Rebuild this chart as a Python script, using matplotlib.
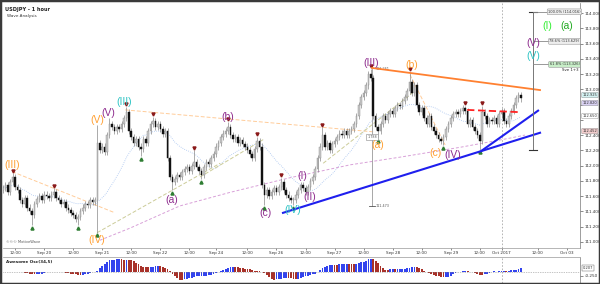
import matplotlib
matplotlib.use("Agg")
import matplotlib.pyplot as plt
import numpy as np
import pandas as pd
from matplotlib.patches import Rectangle

# USDJPY 1 hour closes, bar index 7..221, 12 bars per row
first_bar = 7
first_open = 111.68
closes = [
    111.70, 111.75, 111.65, 111.78, 111.85, 111.72, 111.68, 111.55, 111.50, 111.58, 111.45, 111.40,
    111.35, 111.50, 111.56, 111.60, 111.55, 111.62, 111.60, 111.58, 111.62, 111.65, 111.58, 111.55,
    111.50, 111.52, 111.45, 111.42, 111.38, 111.35, 111.30, 111.32, 111.40, 111.45, 111.50, 111.48,
    111.55, 111.52, 111.55, 112.30, 112.20, 112.25, 112.18, 112.40, 112.55, 112.50, 112.45, 112.50,
    112.48, 112.55, 112.62, 112.70, 112.45, 112.38, 112.30, 112.35, 112.25, 112.22, 112.35, 112.30,
    112.45, 112.55, 112.58, 112.50, 112.55, 112.48, 112.42, 112.45, 112.10, 111.85, 111.78, 111.82,
    111.88, 111.85, 111.92, 111.95, 111.98, 111.93, 112.00, 112.05, 111.98, 111.93, 111.88, 111.98,
    112.05, 112.02, 112.10, 112.15, 112.25, 112.30, 112.38, 112.42, 112.45, 112.50, 112.40, 112.35,
    112.38, 112.30, 112.33, 112.28, 112.25, 112.20, 112.15, 112.10, 112.22, 112.32, 112.25, 111.75,
    111.62, 111.68, 111.60, 111.65, 111.70, 111.65, 111.72, 111.78, 111.68, 111.62, 111.58, 111.55,
    111.55, 111.62, 111.68, 111.75, 111.70, 111.65, 111.72, 111.80, 111.85, 111.95, 112.10, 112.25,
    112.40, 112.25, 112.30, 112.20, 112.28, 112.32, 112.38, 112.42, 112.40, 112.45, 112.40, 112.45,
    112.48, 112.55, 112.65, 112.80, 112.90, 112.95, 113.05, 113.20, 113.15, 112.65, 112.50, 112.45,
    112.55, 112.65, 112.60, 112.68, 112.72, 112.68, 112.75, 112.80, 112.78, 112.85, 112.90, 112.98,
    113.10, 112.95, 113.05, 112.80, 112.70, 112.75, 112.62, 112.55, 112.65, 112.50, 112.45, 112.40,
    112.35, 112.32, 112.38, 112.48, 112.55, 112.62, 112.68, 112.70, 112.68, 112.72, 112.75, 112.72,
    112.55, 112.60, 112.50, 112.45, 112.40, 112.32, 112.70, 112.65, 112.55, 112.60, 112.58, 112.62,
    112.55, 112.68, 112.72, 112.58, 112.55, 112.65, 112.72, 112.80, 112.88, 112.92, 112.88,
]

# swing highs / lows (bar index: price)
pivot_highs = {11: 111.90, 28: 111.70, 46: 112.53, 51: 112.62, 58: 112.77, 69: 112.64,
               86: 112.20, 100: 112.57, 112: 112.38, 122: 111.84, 130: 111.78, 139: 112.50,
               159: 113.27, 175: 113.23, 198: 112.78, 205: 112.78, 220: 112.97}
pivot_lows = {19: 111.22, 38: 111.22, 46: 111.12, 64: 112.12, 77: 111.68, 89: 111.82,
              115: 111.48, 127: 111.48, 132: 111.62, 162: 112.36, 189: 112.27, 204: 112.21}
top_marks = [11, 28, 58, 69, 86, 100, 112, 122, 139, 159, 175, 198, 205]
bottom_marks = [19, 38, 46, 64, 77, 89, 115, 127, 162, 189, 204]

tick_bars = [12, 24, 36, 48, 60, 72, 84, 95, 108, 120, 132, 144, 156, 168, 180, 192, 204, 213, 228, 240]
tick_labels = ["12:00", "Sep 20", "12:00", "Sep 21", "12:00", "Sep 22", "12:00", "Sep 24",
               "12:00", "Sep 26", "12:00", "Sep 27", "12:00", "Sep 28", "12:00", "Sep 29",
               "12:00", "Oct 2017", "12:00", "Oct 03"]

# wave labels: text, bar, price, colour
ORANGE, PURPLE, CYAN = "#ffa033", "#8e2c8e", "#2ec4c4"
wave_labels = [
    ("(III)", 10.8, 112.01, ORANGE), ("(V)", 45.9, 112.60, ORANGE), ("(V)", 50.4, 112.69, PURPLE),
    ("(III)", 57.0, 112.83, CYAN), ("(IV)", 45.9, 111.02, ORANGE), ("(a)", 76.9, 111.55, PURPLE),
    ("(b)", 100.0, 112.64, PURPLE), ("(c)", 115.3, 111.38, PURPLE), ("(IV)", 126.9, 111.42, CYAN),
    ("(I)", 130.6, 111.86, PURPLE), ("(II)", 133.9, 111.59, PURPLE), ("(III)", 159.1, 113.34, PURPLE),
    ("(a)", 162.0, 112.27, ORANGE), ("(b)", 176.0, 113.32, ORANGE), ("(c)", 185.6, 112.17, ORANGE),
    ("(IV)", 193.0, 112.14, PURPLE), ("(V)", 226.0, 113.61, PURPLE), ("(V)", 226.0, 113.44, CYAN),
    ("(I)", 231.8, 113.83, "#33ee33"), ("(a)", 240.1, 113.83, "#22aa22"),
]

# long moving average
ma_long_bars = [47, 59.5, 80, 101, 125.5, 150.5, 171, 196, 216.5, 222.7]
ma_long_vals = [111.02, 111.18, 111.47, 111.65, 111.84, 112.01, 112.11, 112.24, 112.36, 112.40]

# trend lines: (bar0, price0, bar1, price1)
blue_lines = [(122.7, 111.38, 228.9, 112.43), (205.0, 112.20, 228.1, 112.72)]
orange_line = (159.5, 113.28, 228.9, 112.99)
red_dashed = (198.8, 112.73, 220.7, 112.70)
orange_dashed = [(10.8, 111.92, 53.3, 111.38), (57.5, 112.73, 160.8, 112.44), (175.2, 113.19, 189.7, 112.27)]
olive_dashed = [(45.9, 111.12, 96.7, 112.03), (88.4, 111.85, 114.5, 112.34), (139.3, 112.03, 176.5, 112.96)]

fib_levels = [114.016, 113.629, 113.326]
fib_texts = ["100.0% (114.016)", "78.6% (113.629)", "61.8% (113.326)"]
fib_base = 112.21
measure_top, measure_bottom = 113.261, 111.473

price_boxes = [(112.925, "112.925", "#d4f2f2"), (112.820, "112.820", "#d8d0f2"),
               (112.650, "112.650", "white"), (112.452, "112.452", "#f2cccc")]
hidden_ticks = [112.6, 112.8]

# ---------------------------------------------------------------
closes = np.array(closes)
bars = np.arange(first_bar, first_bar + len(closes))
opens = np.r_[first_open, closes[:-1]]
highs = np.maximum(opens, closes) + 0.04
lows = np.minimum(opens, closes) - 0.04
for b, v in pivot_highs.items():
    highs[b - first_bar] = v
for b, v in pivot_lows.items():
    lows[b - first_bar] = v

median = pd.Series((highs + lows) / 2)
ao = (median.rolling(5, min_periods=1).mean() - median.rolling(34, min_periods=1).mean()).values
ma_short = pd.Series(closes).rolling(20, min_periods=1).mean().values

fig = plt.figure(figsize=(6, 2.84), dpi=100)
ax = fig.add_axes([0.005, 0.127, 0.962, 0.862])
ax2 = fig.add_axes([0.005, 0.004, 0.962, 0.091], sharex=ax)
fig.patches.append(Rectangle((0, 0), 1, 1, transform=fig.transFigure, fill=False,
                             edgecolor="#3a3a3a", linewidth=2.5))

# moving averages and channels
ax.plot(bars, ma_short, color="#a8c4f0", lw=0.6, ls=(0, (1, 1.5)), zorder=1)
ax.plot(ma_long_bars, ma_long_vals, color="#d8a0d8", lw=0.7, ls=(0, (3, 2)), zorder=1)
for x0, y0, x1, y1 in orange_dashed:
    ax.plot([x0, x1], [y0, y1], color="#ffcc99", lw=0.7, ls=(0, (4, 2)), zorder=1)
for x0, y0, x1, y1 in olive_dashed:
    ax.plot([x0, x1], [y0, y1], color="#cccc99", lw=0.7, ls=(0, (4, 2)), zorder=1)

# candles
up = closes >= opens
ax.vlines(bars, lows, highs, color="#888888", lw=0.5, zorder=2)
body_bottom = np.minimum(opens, closes)
body_h = np.maximum(np.abs(closes - opens), 0.006)
ax.bar(bars[up], body_h[up], bottom=body_bottom[up], width=0.65,
       color="#c8c8c8", edgecolor="#8a8a8a", linewidth=0.3, zorder=3)
ax.bar(bars[~up], body_h[~up], bottom=body_bottom[~up], width=0.65,
       color="#111111", edgecolor="#111111", linewidth=0.3, zorder=3)

ax.plot(top_marks, highs[np.array(top_marks) - first_bar] + 0.035, "v", color="#8b1a1a", ms=2.2, zorder=4)
ax.plot(bottom_marks, lows[np.array(bottom_marks) - first_bar] - 0.035, "^", color="#2e7d32", ms=2.2, zorder=4)

# trend lines
for x0, y0, x1, y1 in blue_lines:
    ax.plot([x0, x1], [y0, y1], color="#1f1fee", lw=1.5, zorder=5)
ax.plot(orange_line[::2], orange_line[1::2], color="#ff8030", lw=1.3, zorder=5)
ax.plot(red_dashed[::2], red_dashed[1::2], color="#ff2222", lw=1.3, ls=(0, (4, 2)), zorder=5)

# fib projection tool
fx = 226.0
ax.plot([fx, fx], [fib_base, fib_levels[0]], color="#777777", lw=0.7, zorder=5)
ax.plot([fx - 1.5, fx + 1.5], [fib_levels[0]] * 2, color="#333333", lw=0.8, zorder=5)
ax.plot([fx - 1.5, fx + 1.5], [fib_base] * 2, color="#333333", lw=0.8, zorder=5)
for lvl, txt in zip(fib_levels, fib_texts):
    ax.plot([fx, 233.5], [lvl, lvl], color="#888888", lw=0.6, zorder=5)
    face = "#c8eec8" if txt.startswith("61.8") else "#eeeeee"
    ax.text(239, lvl, txt, fontsize=2.6, ha="center", va="center", color="#333333",
            bbox=dict(boxstyle="round,pad=0.25", fc=face, ec="#999999", lw=0.4), zorder=6)
ax.text(241.3, 113.25, "Sve 1+3", fontsize=2.8, ha="center", va="center", color="#222222")

# measuring tool
mx = 159.5
ax.plot([mx, mx], [measure_bottom, measure_top], color="#999999", lw=0.6, zorder=1.5)
ax.plot([mx - 1.2, mx + 1.2], [measure_bottom] * 2, color="#555555", lw=0.6)
ax.text(mx + 1.5, measure_bottom, "%.3f" % measure_bottom, fontsize=2.4, va="center", color="#555555")
ax.text(mx + 1.5, measure_top, "%.3f" % measure_top, fontsize=2.4, va="center", color="#555555")
ax.text(mx, 112.37, "%.3f" % (measure_top - measure_bottom), fontsize=2.4, ha="center", va="center",
        color="#555555", bbox=dict(boxstyle="square,pad=0.3", fc="white", ec="#888888", lw=0.4), zorder=6)

for txt, bx, py, col in wave_labels:
    ax.text(bx, py, txt, fontsize=7.5, family="Liberation Sans", color=col,
            ha="center", va="center", zorder=7)

ax.text(0.004, 0.985, "USDJPY - 1 hour", transform=ax.transAxes, fontsize=3.6,
        fontweight="bold", va="top", color="#222222")
ax.text(0.007, 0.955, "Wave Analysis", transform=ax.transAxes, fontsize=3,
        va="top", color="#333333")
ax.text(0.006, 0.018, "\u00a9\u00a9\u00a9 MotiveWave", transform=ax.transAxes, fontsize=2.6,
        va="bottom", color="#555555")

# axes styling
ax.set_xlim(7, 245.5)
ax.set_ylim(110.92, 114.13)
yt = np.round(np.arange(111.0, 114.01, 0.2), 1)
ax.set_yticks(yt)
ax.set_yticklabels(["" if v in hidden_ticks else "%.3f" % v for v in yt])
ax.yaxis.tick_right()
ax.tick_params(axis="y", labelsize=3, length=2, width=0.4, pad=1, colors="#333333")
ax.set_xticks(tick_bars)
ax.set_xticklabels(tick_labels)
ax.tick_params(axis="x", labelsize=3, length=1.5, width=0.4, pad=1, colors="#333333")
for s in ["left", "top"]:
    ax.spines[s].set_visible(False)
ax.spines["right"].set_linestyle((0, (1, 1)))
ax.spines["right"].set_color("#777777")
ax.spines["right"].set_linewidth(0.5)
ax.spines["bottom"].set_color("#999999")
ax.spines["bottom"].set_linewidth(0.5)
ax.axvline(213, color="#aaaaaa", lw=0.6, ls=(0, (2, 2)), zorder=0)

for py, txt, face in price_boxes:
    ax.text(1.004, py, txt, transform=ax.get_yaxis_transform(), fontsize=2.6, va="center",
            color="#333333", bbox=dict(boxstyle="round,pad=0.2", fc=face, ec="#888888", lw=0.3),
            clip_on=False, zorder=8)

# awesome oscillator
rising = np.r_[True, ao[1:] > ao[:-1]]
ax2.bar(bars, ao, width=0.75, color=np.where(rising, "#3344ee", "#a8322a"), linewidth=0)
ax2.axhline(0, color="#888888", lw=0.5, ls=(0, (1, 1.5)))
ax2.axvline(213, color="#aaaaaa", lw=0.6, ls=(0, (2, 2)), zorder=0)
ax2.set_ylim(-0.66, 0.87)
ax2.set_yticks([-0.25])
ax2.yaxis.set_major_formatter(matplotlib.ticker.FormatStrFormatter("%.3f"))
ax2.yaxis.tick_right()
ax2.tick_params(axis="y", labelsize=3, length=2, width=0.4, pad=1, colors="#333333")
ax2.tick_params(axis="x", bottom=False, labelbottom=False)
for s in ["left", "bottom"]:
    ax2.spines[s].set_visible(False)
ax2.spines["top"].set_color("#999999")
ax2.spines["top"].set_linewidth(0.5)
ax2.spines["right"].set_linestyle((0, (1, 1)))
ax2.spines["right"].set_color("#777777")
ax2.spines["right"].set_linewidth(0.5)
ax2.text(0.005, 0.9, "Awesome Osc(34,5)", transform=ax2.transAxes, fontsize=3,
         fontweight="bold", va="top", color="#222222")
ax2.text(1.004, ao[-1], "%.3f" % ao[-1], transform=ax2.get_yaxis_transform(), fontsize=2.6,
         va="center", color="#333333", clip_on=False,
         bbox=dict(boxstyle="square,pad=0.2", fc="white", ec="#555555", lw=0.3))

fig.savefig("out.png", dpi=100)
